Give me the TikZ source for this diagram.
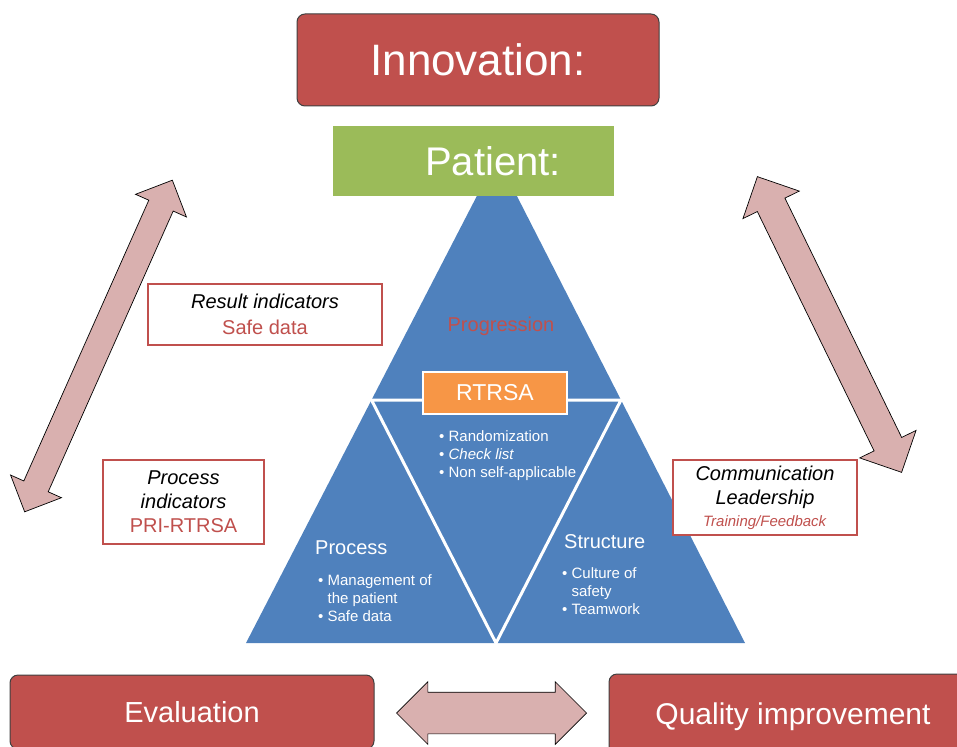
\documentclass[tikz,border=0pt]{standalone}
\usepackage{fontspec}
\setmainfont{Liberation Sans}
\usepackage{xcolor}
\usepackage{tikz}
\usetikzlibrary{positioning, calc, shapes.arrows}

\definecolor{boxred}{HTML}{C0504D}
\definecolor{leafgreen}{HTML}{9BBB59}
\definecolor{triblue}{HTML}{4F81BD}
\definecolor{tagorange}{HTML}{F79646}
\definecolor{arrowpink}{HTML}{D9B0AF}

\begin{document}
\begin{tikzpicture}[x=1pt,y=-1pt]
						\tikzstyle{redbox}=[draw=black!75,fill=boxred,rounded corners=8pt,line width=1pt,text=white,text depth=0pt]
						\tikzstyle{notebox}=[draw=boxred,fill=white,line width=2.2pt,align=center,font=\fontsize{20}{24}\selectfont]
						\tikzstyle{bigarrow}=[double arrow,draw=black,fill=arrowpink,line width=0.7pt,double arrow tip angle=90,inner xsep=0pt]
						\tikzstyle{bullets}=[text=white,align=left,anchor=west,inner sep=0pt,font=\fontsize{15}{18}\selectfont]
						\useasboundingbox (0,0) rectangle (957,746);
						\clip (0,0) rectangle (957,746);

						% pyramid
						\coordinate (top) at (497,157);
						\coordinate (bl) at (246,643);
						\coordinate (br) at (745,643);
						\coordinate (ml) at (371.5,400);
						\coordinate (mr) at (621,400);
						\coordinate (mb) at (496,643);
						\fill[triblue] (top) -- (bl) -- (br) -- cycle;
						\draw[white,line width=3pt] (ml) -- (mr) -- (mb) -- cycle;

						\node[redbox,minimum width=362pt,minimum height=92pt,font=\fontsize{44}{50}\selectfont](innov) at (478,60) {Innovation:};
						\node[fill=leafgreen,minimum width=281pt,minimum height=70pt](patient) at (473.5,161) {};
						\node[text=white,font=\fontsize{40}{46}\selectfont](patientlbl) at (493,161) {Patient:};

						\node[text=boxred,font=\fontsize{20}{24}\selectfont](prog) at (501,326) {Progression};
						\node[fill=tagorange,draw=white,line width=2pt,minimum width=144pt,minimum height=42pt,text=white,font=\fontsize{23}{27}\selectfont](rtrsa) at (495,393) {RTRSA};
						\node[bullets](rtrsalist) at (439,456) {• Randomization\\• \textit{Check list}\\• Non self-applicable};

						\node[text=white,anchor=west,inner sep=0pt,font=\fontsize{20}{24}\selectfont](proc) at (315,548) {Process};
						\node[bullets](proclist) at (318,598) {• Management of\\\hphantom{• }the patient\\• Safe data};
						\node[text=white,anchor=west,inner sep=0pt,font=\fontsize{20}{24}\selectfont](struct) at (564,542) {Structure};
						\node[bullets](structlist) at (562,591) {• Culture of\\\hphantom{• }safety\\• Teamwork};

						\node[notebox,minimum width=234pt,minimum height=61pt](result) at (265,314.5) {\textit{Result indicators}\\[2pt]\textcolor{boxred}{Safe data}};
						\node[notebox,minimum width=161pt,minimum height=84pt](procind) at (183.5,502) {\textit{Process}\\\textit{indicators}\\\textcolor{boxred}{PRI-RTRSA}};
						\node[notebox,minimum width=184pt,minimum height=75pt](comm) at (765,497.5) {\textit{Communication}\\\textit{Leadership}\\[-2pt]{\fontsize{15}{18}\selectfont\textcolor{boxred}{\textit{Training/Feedback}}}};

						\node[redbox,minimum width=364pt,minimum height=74pt,font=\fontsize{29}{34}\selectfont](eval) at (192,712) {Evaluation};
						\node[redbox,minimum width=368pt,minimum height=80pt,font=\fontsize{30}{36}\selectfont](quality) at (793,714) {Quality improvement};

						\node[bigarrow,minimum height=363pt,inner ysep=13pt,double arrow head extend=14.5pt,rotate=66](leftarrow) at (98.5,346) {};
						\node[bigarrow,minimum height=329pt,inner ysep=15pt,double arrow head extend=16pt,rotate=-64](rightarrow) at (829.5,324.5) {};
						\node[bigarrow,minimum height=190pt,inner ysep=20.5pt,double arrow head extend=10.5pt](evalarrow) at ($(eval.east)!0.5!(quality.west)$) {};
					\end{tikzpicture}
\end{document}
